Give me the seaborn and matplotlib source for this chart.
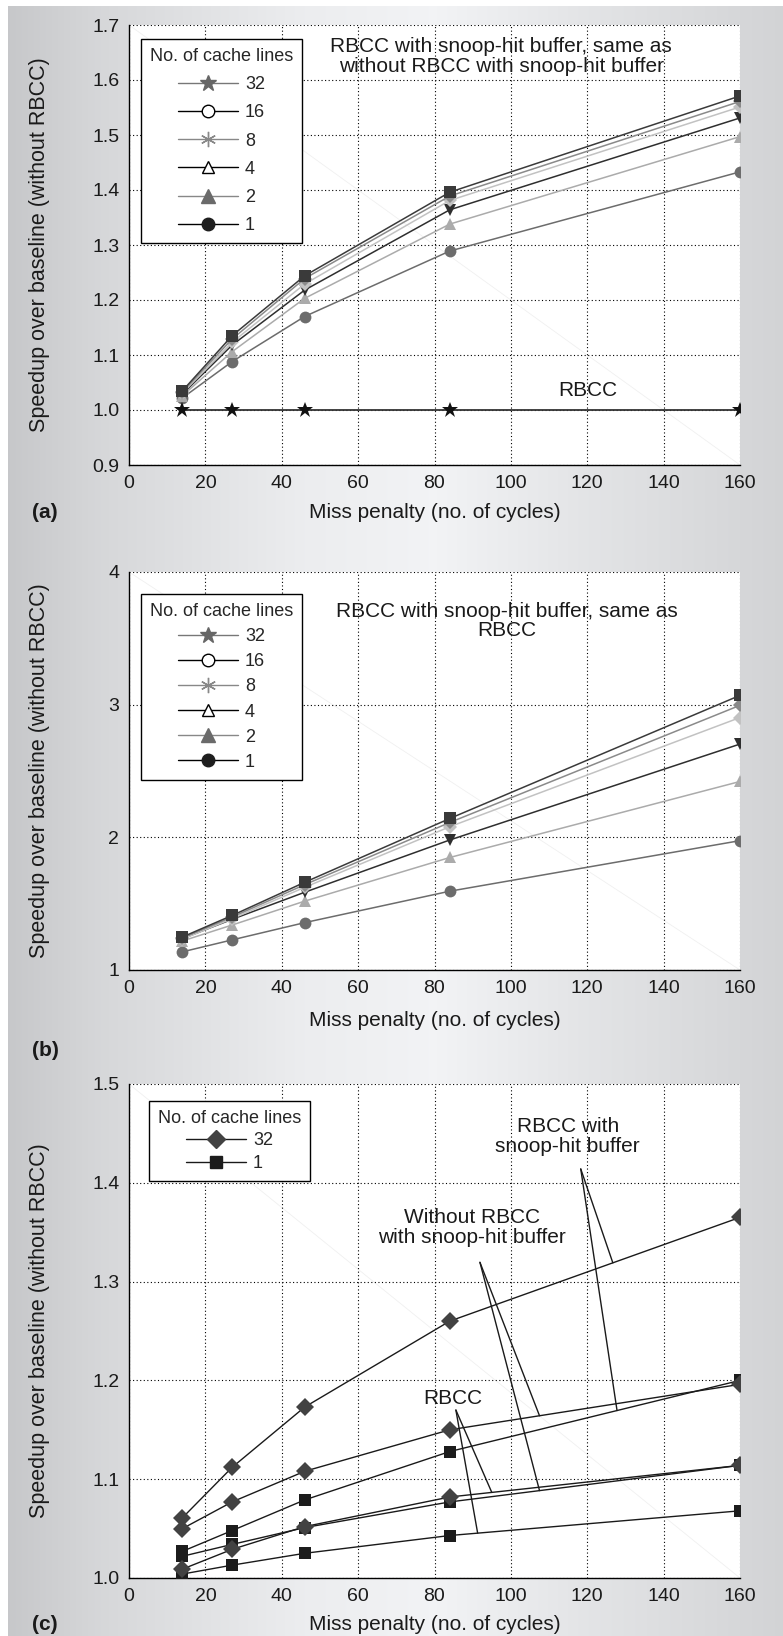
import numpy as np
import pandas as pd
import matplotlib.pyplot as plt
import seaborn as sns
from matplotlib.lines import Line2D

# miss penalty (cycles) on the x axis, shared by all three panels
miss_penalty = [14, 27, 46, 84, 160]

# (a) speedup, RBCC with snoop-hit buffer, by number of cache lines
a_32 = [1.035, 1.135, 1.244, 1.396, 1.571]
a_16 = [1.033, 1.129, 1.239, 1.389, 1.561]
a_8 = [1.031, 1.123, 1.229, 1.381, 1.551]
a_4 = [1.029, 1.118, 1.218, 1.364, 1.531]
a_2 = [1.026, 1.106, 1.203, 1.338, 1.497]
a_1 = [1.022, 1.088, 1.170, 1.289, 1.433]
a_rbcc = [1.0, 1.0, 1.0, 1.0, 1.0]

# (b)
b_32 = [1.249, 1.411, 1.661, 2.142, 3.070]
b_16 = [1.244, 1.399, 1.643, 2.112, 2.995]
b_8 = [1.232, 1.387, 1.623, 2.080, 2.903]
b_4 = [1.237, 1.382, 1.586, 1.980, 2.703]
b_2 = [1.219, 1.339, 1.519, 1.848, 2.421]
b_1 = [1.137, 1.227, 1.357, 1.594, 1.975]

# (c) 32 vs 1 cache lines, three configurations
c_snoop_32 = [1.061, 1.112, 1.173, 1.260, 1.365]
c_nosnoop_32 = [1.050, 1.077, 1.108, 1.150, 1.196]
c_rbcc_32 = [1.009, 1.029, 1.052, 1.082, 1.114]
c_snoop_1 = [1.027, 1.048, 1.079, 1.128, 1.200]
c_nosnoop_1 = [1.022, 1.034, 1.051, 1.077, 1.114]
c_rbcc_1 = [1.004, 1.013, 1.025, 1.043, 1.068]

cache_lines = ['32', '16', '8', '4', '2', '1']

W, H = 783, 1636
sns.set_style('white')
plt.rcParams['font.family'] = ['Liberation Sans', 'DejaVu Sans']
plt.rcParams['font.size'] = 14

fig = plt.figure(figsize=(W / 100, H / 100), dpi=100, facecolor='white')

# gray/white page gradient behind the panels
bg = fig.add_axes([8 / W, 0, 1 - 8 / W, 1 - 6 / H], zorder=-10)
xs = np.linspace(0, 1, 400)
prof = np.interp(xs, [0, 0.12, 0.38, 0.55, 0.75, 1.0], [0.78, 0.84, 0.925, 0.95, 0.89, 0.825])
img = np.dstack([prof, prof + 0.004, prof + 0.012]).clip(0, 1)
bg.imshow(img, aspect='auto', extent=[0, 1, 0, 1])
bg.axis('off')


def make_axes(top, bottom):
    left, right = 129, 740
    return fig.add_axes([left / W, 1 - bottom / H, (right - left) / W, (bottom - top) / H])


def style_axes(ax, ylim, yticks, fmt, top, bottom, xlab_y, tag, tag_y):
    ax.set_xlim(0, 160)
    ax.set_ylim(*ylim)
    ax.set_xticks(range(0, 161, 20))
    ax.set_yticks(yticks)
    ax.set_yticklabels([fmt.format(v) for v in yticks])
    ax.grid(True, color='black', linestyle=(0, (1, 2.2)), linewidth=0.8)
    ax.set_axisbelow(True)
    for s in ['top', 'right']:
        ax.spines[s].set_visible(False)
    for s in ['left', 'bottom']:
        ax.spines[s].set_color('black')
        ax.spines[s].set_linewidth(1.0)
    ax.tick_params(length=0, labelsize=14, colors='#1a1a1a', pad=7)
    ax.set_facecolor('white')
    # faint scan artefact diagonal
    ax.plot([0, 1], [1, 0], transform=ax.transAxes, color='#f0f0f0', lw=0.6, zorder=0.5)
    ax.set_xlabel('Miss penalty (no. of cycles)', fontsize=15, color='#1a1a1a')
    ax.set_ylabel('Speedup over baseline (without RBCC)', fontsize=15.5, color='#1a1a1a')
    h = bottom - top
    ax.xaxis.set_label_coords(0.5, -(xlab_y - bottom) / h)
    ax.xaxis.label.set_va('center')
    ax.yaxis.set_label_coords((50 - 129) / 611, 0.5)
    fig.text(32 / W, 1 - tag_y / H, tag, fontsize=15, fontweight='bold', va='center', color='#1a1a1a')


series_style = {
    '32': dict(marker='s', color='#3a3a3a', ms=8),
    '16': dict(marker='D', color='#8a8a8a', ms=7),
    '8': dict(marker='D', color='#c2c2c2', ms=7),
    '4': dict(marker='v', color='#2e2e2e', ms=9),
    '2': dict(marker='^', color='#ababab', ms=9),
    '1': dict(marker='o', color='#6c6c6c', ms=8.5),
}

legend_handles = [
    Line2D([], [], color='#777777', lw=1, marker='*', ms=12, mfc='#666666', mec='#666666'),
    Line2D([], [], color='black', lw=1, marker='o', ms=9, mfc='white', mec='black'),
    Line2D([], [], color='#888888', lw=1, marker=(6, 2, 0), ms=11, mec='#888888'),
    Line2D([], [], color='black', lw=1, marker='^', ms=9, mfc='white', mec='black'),
    Line2D([], [], color='#888888', lw=1, marker='^', ms=10, mfc='#6a6a6a', mec='#6a6a6a'),
    Line2D([], [], color='black', lw=1, marker='o', ms=9, mfc='#1e1e1e', mec='#1e1e1e'),
]


def add_legend(ax, handles, labels, x, y, spacing):
    leg = ax.legend(handles, labels, title='No. of cache lines', loc='upper left',
                    bbox_to_anchor=(x / W, 1 - y / H), bbox_transform=fig.transFigure,
                    borderaxespad=0, fancybox=False, framealpha=1, edgecolor='black',
                    fontsize=13, title_fontsize=13, handlelength=3.3, handletextpad=0.4,
                    labelspacing=spacing, borderpad=0.5)
    leg.get_frame().set_linewidth(1.0)
    return leg


# ---------- (a) ----------
ax_a = make_axes(25, 465)
a_data = pd.DataFrame({'x': miss_penalty, '32': a_32, '16': a_16, '8': a_8,
                       '4': a_4, '2': a_2, '1': a_1})
for z, k in enumerate(reversed(cache_lines)):
    st = series_style[k]
    sns.lineplot(data=a_data, x='x', y=k, ax=ax_a, color=st['color'], marker=st['marker'],
                 ms=st['ms'], mew=0, lw=1.1, zorder=3 + z)
sns.lineplot(x=miss_penalty, y=a_rbcc, ax=ax_a, color='#333333', marker='*', ms=12,
             mew=0, markerfacecolor='#111111', lw=1.3, zorder=3)
style_axes(ax_a, (0.9, 1.7), np.round(np.arange(0.9, 1.71, 0.1), 1), '{:.1f}',
           25, 465, 512, '(a)', 512)
ax_a.text(97.5, 1.643, 'RBCC with snoop-hit buffer, same as\nwithout RBCC with snoop-hit buffer',
          ha='center', va='center', fontsize=15, color='#1a1a1a', linespacing=1.05)
ax_a.text(120.2, 1.035, 'RBCC', ha='center', va='center', fontsize=15, color='#1a1a1a')
add_legend(ax_a, legend_handles, cache_lines, 141, 39, 0.62)

# ---------- (b) ----------
ax_b = make_axes(572, 970)
b_data = pd.DataFrame({'x': miss_penalty, '32': b_32, '16': b_16, '8': b_8,
                       '4': b_4, '2': b_2, '1': b_1})
for z, k in enumerate(reversed(cache_lines)):
    st = series_style[k]
    sns.lineplot(data=b_data, x='x', y=k, ax=ax_b, color=st['color'], marker=st['marker'],
                 ms=st['ms'], mew=0, lw=1.1, zorder=3 + z)
style_axes(ax_b, (1, 4), [1, 2, 3, 4], '{:d}', 572, 970, 1020, '(b)', 1051)
ax_b.text(99, 3.63, 'RBCC with snoop-hit buffer, same as\nRBCC',
          ha='center', va='center', fontsize=15, color='#1a1a1a', linespacing=1.05)
add_legend(ax_b, legend_handles, cache_lines, 141, 594, 0.45)

# ---------- (c) ----------
ax_c = make_axes(1084, 1578)
c_series = [
    (c_rbcc_1, 's'), (c_nosnoop_1, 's'), (c_snoop_1, 's'),
    (c_rbcc_32, 'D'), (c_nosnoop_32, 'D'), (c_snoop_32, 'D'),
]
for z, (vals, m) in enumerate(c_series):
    mc = '#1c1c1c' if m == 's' else '#424242'
    sns.lineplot(x=miss_penalty, y=vals, ax=ax_c, color='#1a1a1a', marker=m,
                 ms=8 if m == 's' else 9, mew=0, markerfacecolor=mc, markeredgecolor=mc,
                 lw=1.0, zorder=3 + z)
style_axes(ax_c, (1.0, 1.5), np.round(np.arange(1.0, 1.51, 0.1), 1), '{:.1f}',
           1084, 1578, 1625, '(c)', 1625)

# callout labels with leader lines to the curves
callouts = [
    ('RBCC with\nsnoop-hit buffer', (114.9, 1.447), (118.3, 1.414),
     [(c_snoop_32, 126.7), (c_snoop_1, 127.8)]),
    ('Without RBCC\nwith snoop-hit buffer', (89.8, 1.3545), (91.9, 1.3195),
     [(c_nosnoop_32, 107.5), (c_nosnoop_1, 107.5)]),
    ('RBCC', (84.9, 1.182), (85.6, 1.170),
     [(c_rbcc_32, 95.0), (c_rbcc_1, 91.3)]),
]
for label, txy, start, targets in callouts:
    ax_c.text(*txy, label, ha='center', va='center', fontsize=15, color='#1a1a1a',
              linespacing=1.05)
    for vals, tx in targets:
        ty = np.interp(tx, miss_penalty, vals)
        ax_c.plot([start[0], tx], [start[1], ty], color='#1a1a1a', lw=1.0, zorder=10)

c_handles = [
    Line2D([], [], color='#1a1a1a', lw=1, marker='D', ms=9, mfc='#424242', mec='#424242'),
    Line2D([], [], color='#1a1a1a', lw=1, marker='s', ms=8, mfc='#1c1c1c', mec='#1c1c1c'),
]
add_legend(ax_c, c_handles, ['32', '1'], 149, 1101, 0.3)

fig.savefig('out.png', dpi=100)
